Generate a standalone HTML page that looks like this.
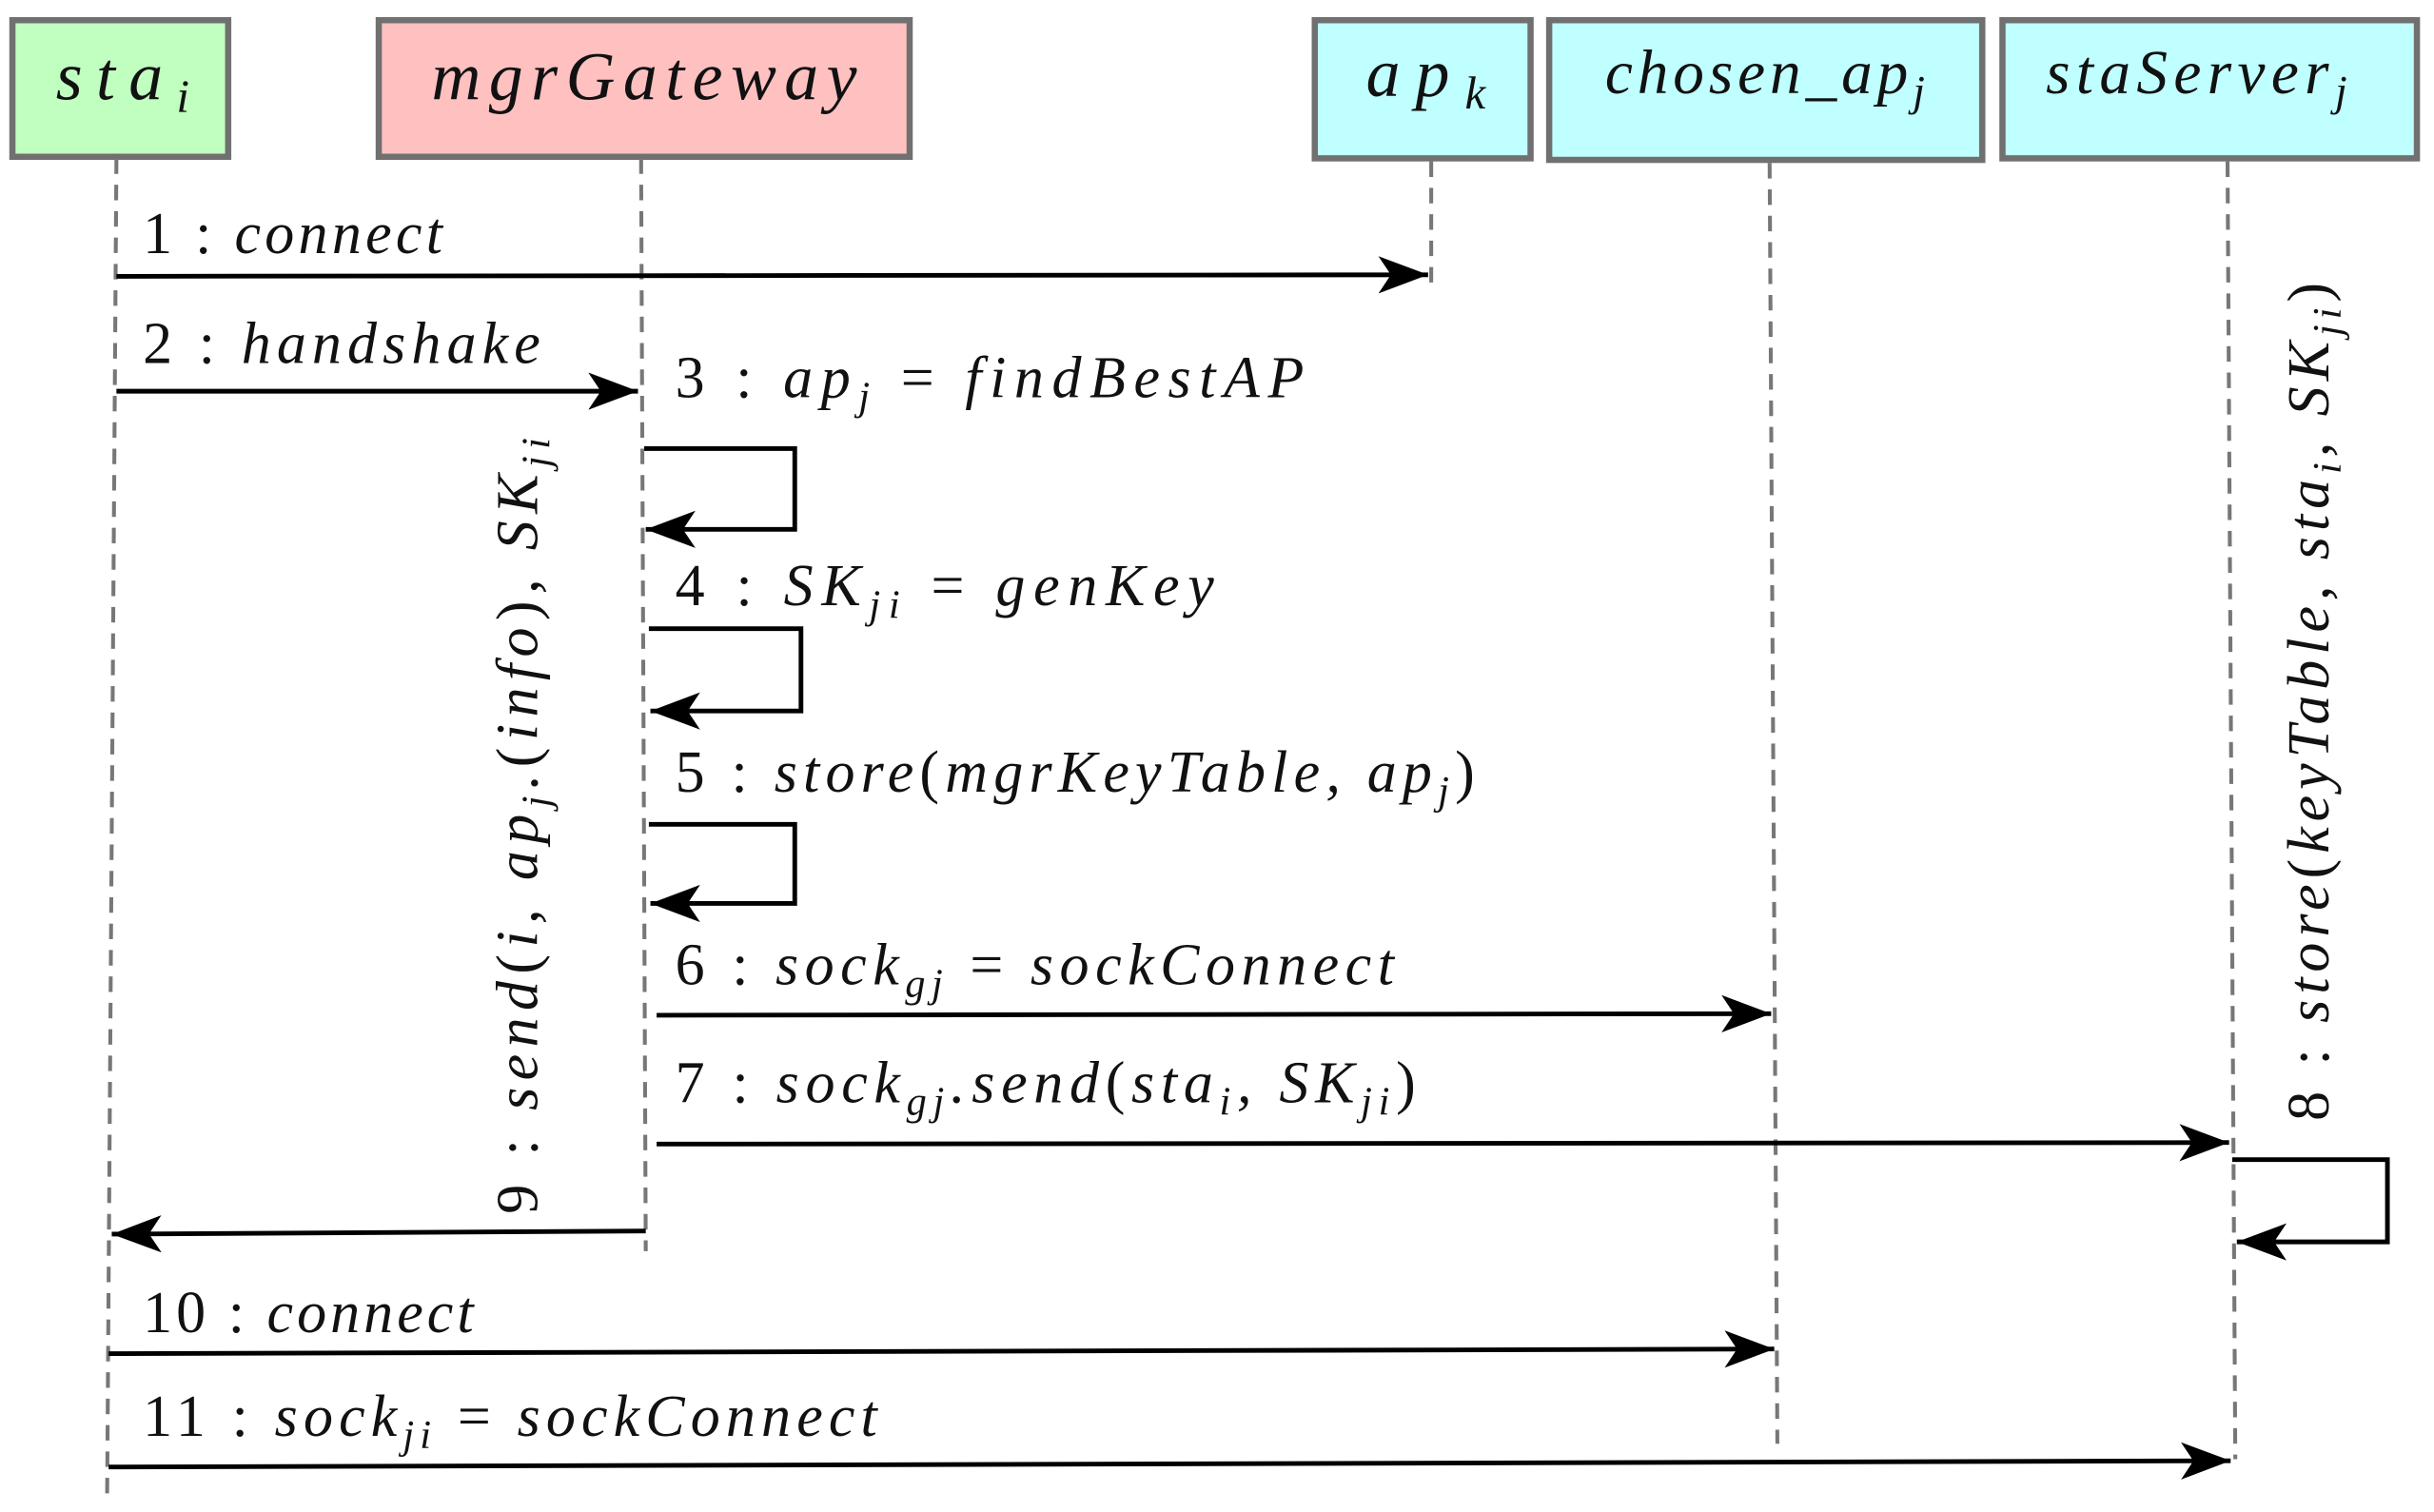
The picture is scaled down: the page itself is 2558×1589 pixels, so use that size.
<!DOCTYPE html>
<html><head><meta charset="utf-8"><style>
html,body{margin:0;padding:0;background:#fff;}
svg{display:block}
text{font-family:"Liberation Serif",serif;font-style:italic;fill:#111;}
.n{font-style:normal}
</style></head><body>
<svg width="2558" height="1589" viewBox="0 0 1568 974" preserveAspectRatio="none" xmlns="http://www.w3.org/2000/svg">
<defs>
<marker id="ah" markerWidth="34" markerHeight="24" refX="32" refY="12" orient="auto" markerUnits="userSpaceOnUse">
<path d="M0,0 L32,12 L0,24 L8,12 Z" fill="#000"/>
</marker>
</defs>
<g stroke="#707070" stroke-width="4">
<rect x="8" y="13" width="139" height="88" fill="#c0ffc0"/>
<rect x="244" y="13" width="342" height="88" fill="#ffc0c0"/>
<rect x="847" y="13" width="139" height="89" fill="#c0ffff"/>
<rect x="998" y="13" width="279" height="90" fill="#c0ffff"/>
<rect x="1290" y="13" width="267" height="89" fill="#c0ffff"/>
</g>
<g font-size="44">
<text x="36" y="64" textLength="86" lengthAdjust="spacing">sta<tspan font-size="30" dy="8">i</tspan></text>
<text x="278" y="64" textLength="274" lengthAdjust="spacing">mgrGateway</text>
<text x="880" y="62" textLength="77" lengthAdjust="spacing">ap<tspan font-size="30" dy="8">k</tspan></text>
</g>
<g font-size="40">
<text x="1034" y="60" textLength="206" lengthAdjust="spacing">chosen_ap<tspan font-size="28" dy="8">j</tspan></text>
<text x="1318" y="60" textLength="194" lengthAdjust="spacing">staServer<tspan font-size="28" dy="8">j</tspan></text>
</g>
<g stroke="#777" stroke-width="2.5" stroke-dasharray="10,7" fill="none">
<line x1="75" y1="102" x2="69" y2="966"/>
<line x1="413" y1="102" x2="416" y2="806"/>
<line x1="922" y1="104" x2="922" y2="188"/>
<line x1="1140" y1="105" x2="1145" y2="930"/>
<line x1="1435" y1="104" x2="1440" y2="940"/>
</g>
<g stroke="#000" stroke-width="3" fill="none" marker-end="url(#ah)">
<line x1="75" y1="178" x2="920" y2="177"/>
<line x1="75" y1="252" x2="411" y2="252"/>
<polyline points="415,289 512,289 512,341 416,341"/>
<polyline points="418,405 516,405 516,458 419,458"/>
<polyline points="418,531 512,531 512,582 419,582"/>
<line x1="423" y1="654" x2="1141" y2="653"/>
<line x1="423" y1="737" x2="1436" y2="736"/>
<polyline points="1438,747 1538,747 1538,800 1441,800"/>
<line x1="416" y1="793" x2="72" y2="795"/>
<line x1="70" y1="872" x2="1143" y2="869"/>
<line x1="70" y1="945" x2="1437" y2="941"/>
</g>
<g font-size="38">
<text x="92" y="163" textLength="193" lengthAdjust="spacing"><tspan class="n">1 : </tspan>connect</text>
<text x="92" y="234" textLength="256" lengthAdjust="spacing"><tspan class="n">2 : </tspan>handshake</text>
<text x="435" y="256" textLength="405" lengthAdjust="spacing"><tspan class="n">3 : </tspan>ap<tspan font-size="26" dy="8">j</tspan><tspan dy="-8" class="n"> = </tspan>findBestAP</text>
<text x="435" y="390" textLength="347" lengthAdjust="spacing"><tspan class="n">4 : </tspan>SK<tspan font-size="26" dy="8">ji</tspan><tspan dy="-8" class="n"> = </tspan>genKey</text>
<text x="435" y="510" textLength="515" lengthAdjust="spacing"><tspan class="n">5 : </tspan>store<tspan class="n">(</tspan>mgrKeyTable, ap<tspan font-size="26" dy="8">j</tspan><tspan dy="-8" class="n">)</tspan></text>
<text x="435" y="634" textLength="463" lengthAdjust="spacing"><tspan class="n">6 : </tspan>sock<tspan font-size="26" dy="8">gj</tspan><tspan dy="-8" class="n"> = </tspan>sockConnect</text>
<text x="435" y="710" textLength="477" lengthAdjust="spacing"><tspan class="n">7 : </tspan>sock<tspan font-size="26" dy="8">gj</tspan><tspan dy="-8">.send</tspan><tspan class="n">(</tspan>sta<tspan font-size="26" dy="8">i</tspan><tspan dy="-8">, SK</tspan><tspan font-size="26" dy="8">ji</tspan><tspan dy="-8" class="n">)</tspan></text>
<text x="92" y="858" textLength="213" lengthAdjust="spacing"><tspan class="n">10 : </tspan>connect</text>
<text x="92" y="925" textLength="473" lengthAdjust="spacing"><tspan class="n">11 : </tspan>sock<tspan font-size="26" dy="8">ji</tspan><tspan dy="-8" class="n"> = </tspan>sockConnect</text>
<text transform="translate(346,782) rotate(-90)" textLength="500" lengthAdjust="spacing"><tspan class="n">9 : </tspan>send<tspan class="n">(</tspan>i, ap<tspan font-size="26" dy="8">j</tspan><tspan dy="-8">.</tspan><tspan class="n">(</tspan>info<tspan class="n">)</tspan>, SK<tspan font-size="26" dy="8">ji</tspan></text>
<text transform="translate(1500,722) rotate(-90)" textLength="540" lengthAdjust="spacing"><tspan class="n">8 : </tspan>store<tspan class="n">(</tspan>keyTable, sta<tspan font-size="26" dy="8">i</tspan><tspan dy="-8">, SK</tspan><tspan font-size="26" dy="8">ji</tspan><tspan dy="-8" class="n">)</tspan></text>
</g>
</svg>
</body></html>
